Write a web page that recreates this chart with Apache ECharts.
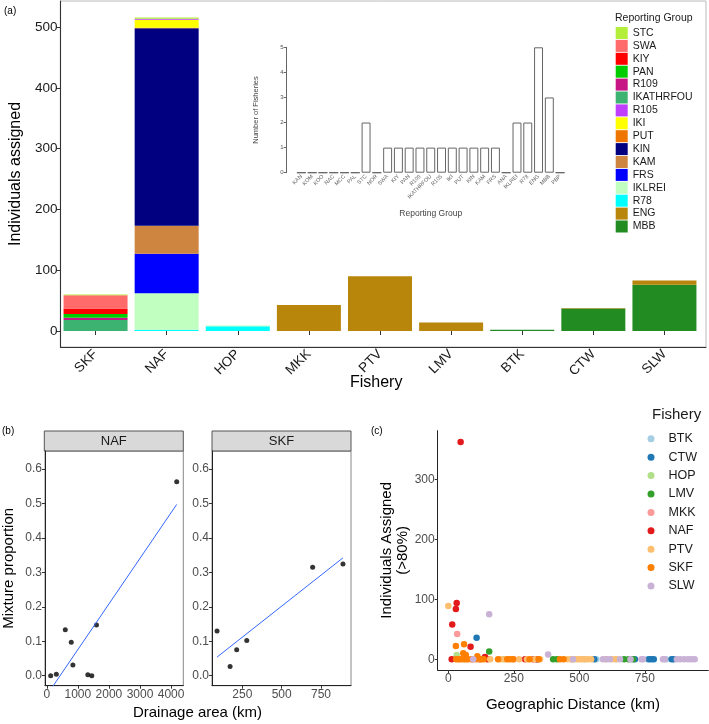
<!DOCTYPE html>
<html><head><meta charset="utf-8">
<script src="https://cdn.jsdelivr.net/npm/echarts@6/dist/echarts.min.js"></script>
<style>html,body{margin:0;padding:0;background:#fff}#c{width:709px;height:724px}</style>
</head><body><div id="c"></div>
<script>
// ---------- Panel (a): stacked bars ----------
const fisheries = ['SKF','NAF','HOP','MKK','PTV','LMV','BTK','CTW','SLW'];
const groups = ['STC','SWA','KIY','PAN','R109','IKATHRFOU','R105','IKI','PUT','KIN','KAM','FRS','IKLREI','R78','ENG','MBB'];
const STC       = [1, 2, 0, 0, 0, 0, 0, 0, 0];
const SWA       = [22, 0, 0, 0, 0, 0, 0, 0, 0];
const KIY       = [9, 0, 0, 0, 0, 0, 0, 0, 0];
const PAN       = [6, 0, 0, 0, 0, 0, 0, 0, 0];
const R109      = [4, 0, 0, 0, 0, 0, 0, 0, 0];
const IKATHRFOU = [18, 0, 0, 0, 0, 0, 0, 0, 0];
const R105      = [0, 2, 0, 0, 0, 0, 0, 0, 0];
const IKI       = [0, 13, 0, 0, 0, 0, 0, 0, 0];
const PUT       = [0, 1, 0, 0, 0, 0, 0, 0, 0];
const KIN       = [0, 325, 0, 0, 0, 0, 0, 0, 0];
const KAM       = [0, 46, 0, 0, 0, 0, 0, 0, 0];
const FRS       = [0, 65, 0, 0, 0, 0, 0, 0, 0];
const IKLREI    = [0, 60, 1, 0, 0, 0, 0, 0, 0];
const R78       = [0, 2, 8, 0, 0, 0, 0, 0, 0];
const ENG       = [0, 0, 0, 43, 90, 14, 0, 1, 7];
const MBB       = [0, 0, 0, 0, 0, 0, 2, 37, 76];
const aTicks = [0, 100, 200, 300, 400, 500];

// ---------- Inset ----------
const insetGroups = ['KAN','KOM','KOO','NAC','MCC','PAL','STC','NOR','SWA','KIY','PAN','R109','IKATHRFOU','R105','IKI','PUT','KIN','KAM','FRS','ANA','IKLREI','R78','ENG','MBB','PBP'];
const insetCounts = [0,0,0,0,0,0,2,0,1,1,1,1,1,1,1,1,1,1,1,0,2,2,5,3,0];
const insetTicks = [0,1,2,3,4,5];

// ---------- Panel (b) ----------
const nafArea = [125, 307, 595, 787, 840, 1320, 1448, 1598, 4181];
const nafProp = [0.000, 0.004, 0.133, 0.097, 0.031, 0.003, 0.000, 0.147, 0.563];
const skfArea = [89, 172, 214, 278, 697, 890];
const skfProp = [0.130, 0.027, 0.075, 0.102, 0.315, 0.324];
const nafFit = [[125, -0.040], [4181, 0.497]];
const skfFit = [[89, 0.054], [890, 0.342]];
const propTicks = [0, 0.1, 0.2, 0.3, 0.4, 0.5, 0.6];
const nafAreaTicks = [0, 1000, 2000, 3000, 4000];
const skfAreaTicks = [250, 500, 750];

// ---------- Panel (c) ----------
const fisheryNames = ['BTK','CTW','HOP','LMV','MKK','NAF','PTV','SKF','SLW'];
const cBTK = [[520,0],[565,0],[640,0],[700,0],[760,0],[830,0]];
const cCTW = [[108,36],[340,0],[557,0],[712,0],[766,0],[775,0],[784,0],[852,0],[860,0]];
const cHOP = [[32,7],[60,0],[210,0],[480,0]];
const cLMV = [[156,13],[400,0],[415,0],[671,0],[688,0],[705,0]];
const cMKK = [[34,42],[90,0],[250,0],[470,0]];
const cNAF = [[47,362],[32,94],[29,84],[15,58],[85,21],[140,4],[13,0],[120,0],[150,0],[293,0],[325,0],[337,0]];
const cPTV = [[0,89],[40,0],[70,0],[115,0],[160,0],[200,0],[215,0],[270,0],[300,0],[330,0],[350,0],[455,0],[470,0],[490,0],[500,0],[510,0],[520,0],[532,0],[545,0],[600,0],[625,0],[640,0]];
const cSKF = [[29,22],[60,25],[57,10],[67,7],[111,5],[30,0],[40,0],[50,0],[62,0],[75,0],[90,0],[105,0],[125,0],[135,0],[190,0],[225,0],[235,0],[247,0],[310,0],[345,0],[426,0],[440,0]];
const cSLW = [[156,75],[381,8],[95,0],[476,0],[590,0],[605,0],[617,0],[655,0],[695,0],[737,0],[743,0],[819,0],[826,0],[872,0],[885,0],[900,0],[915,0],[928,0],[940,0]];
const distTicks = [0, 250, 500, 750];
const indTicks = [0, 100, 200, 300];

// ---------- styles ----------
const groupColors = {STC:'#B3EE3A',SWA:'#FF6A6A',KIY:'#FF0000',PAN:'#00CD00',R109:'#C71585',IKATHRFOU:'#3CB371',R105:'#BF3EFF',IKI:'#FFFF00',PUT:'#EE7600',KIN:'#000080',KAM:'#CD853F',FRS:'#0000FF',IKLREI:'#C1FFC1',R78:'#00FFFF',ENG:'#B8860B',MBB:'#228B22'};
const fisheryColors = ['#A6CEE3','#1F78B4','#B2DF8A','#33A02C','#FB9A99','#E31A1C','#FDBF6F','#FF7F00','#CAB2D6'];
const FF = '"Liberation Sans", Arial, Helvetica, sans-serif';

const groupValues = {STC,SWA,KIY,PAN,R109,IKATHRFOU,R105,IKI,PUT,KIN,KAM,FRS,IKLREI,R78,ENG,MBB};
const scatterValues = [cBTK,cCTW,cHOP,cLMV,cMKK,cNAF,cPTV,cSKF,cSLW];

const series = [];
groups.slice().reverse().forEach(g => {
  series.push({name:g, type:'bar', stack:'a', xAxisIndex:1, yAxisIndex:1, barWidth:'90%',
    data: groupValues[g], itemStyle:{color:groupColors[g]}});
});
series.push({name:'inset', type:'bar', xAxisIndex:2, yAxisIndex:2, barCategoryGap:'17%',
  data: insetCounts, itemStyle:{color:'#fff', borderColor:'#666', borderWidth:1}});
series.push({name:'nafPts', type:'scatter', xAxisIndex:3, yAxisIndex:3, symbolSize:5,
  data: nafArea.map((a,i)=>[a,nafProp[i]]), itemStyle:{color:'#000'}});
series.push({name:'nafFit', type:'line', xAxisIndex:3, yAxisIndex:3, showSymbol:false, symbol:'none', clip:true,
  data: nafFit, lineStyle:{color:'#3366FF', width:1}});
series.push({name:'skfPts', type:'scatter', xAxisIndex:4, yAxisIndex:4, symbolSize:5,
  data: skfArea.map((a,i)=>[a,skfProp[i]]), itemStyle:{color:'#000'}});
series.push({name:'skfFit', type:'line', xAxisIndex:4, yAxisIndex:4, showSymbol:false, symbol:'none', clip:true,
  data: skfFit, lineStyle:{color:'#3366FF', width:1}});
fisheryNames.forEach((f,i) => {
  series.push({name:f, type:'scatter', xAxisIndex:5, yAxisIndex:5, symbolSize:6.5,
    data: scatterValues[i], itemStyle:{color:fisheryColors[i], opacity:1}});
});

const plain = v => String(v);
const noSplit = {show:false};
const option = {
  animation:false,
  textStyle:{fontFamily:FF},
  grid:[
    {left:52, top:1, width:654, height:346, show:true, borderColor:'#bbb', borderWidth:1},
    {left:60, top:1, width:640, height:346},
    {left:296, top:47.3, width:269.5, height:125.4},
    {left:44.3, top:451, width:139, height:234.7, show:true, borderColor:'#888', borderWidth:1},
    {left:212, top:451, width:139, height:234.7, show:true, borderColor:'#888', borderWidth:1},
    {left:437.7, top:430.7, width:270.6, height:239.3}
  ],
  xAxis:[
    {gridIndex:0, type:'value', min:0, max:1, axisLine:{show:true, onZero:false, lineStyle:{color:'#333', width:1.1}},
      axisTick:{show:false}, axisLabel:{show:false}, splitLine:noSplit,
      name:'Fishery', nameLocation:'middle', nameGap:28, nameTextStyle:{fontSize:16, color:'#000', fontFamily:FF, padding:[0,14,0,0]}},
    {gridIndex:1, type:'category', data:fisheries, axisLine:{show:false},
      axisTick:{show:true, alignWithLabel:true, length:4, lineStyle:{color:'#333'}},
      axisLabel:{rotate:45, fontSize:13.5, color:'#1a1a1a', margin:5, interval:0, fontFamily:FF}},
    {gridIndex:2, type:'category', data:insetGroups, axisLine:{show:false}, axisTick:{show:false},
      axisLabel:{rotate:45, fontSize:5.5, color:'#666', margin:3, interval:0, fontFamily:FF},
      name:'Reporting Group', nameLocation:'middle', nameGap:36, nameTextStyle:{fontSize:8.5, color:'#444', fontFamily:FF}},
    {gridIndex:3, type:'value', min:-58, max:4393, axisLine:{show:true, onZero:false, lineStyle:{color:'#222'}},
      axisTick:{show:true, length:3, customValues:nafAreaTicks, lineStyle:{color:'#333'}},
      axisLabel:{customValues:nafAreaTicks, formatter:plain, fontSize:12, color:'#4d4d4d', margin:3, fontFamily:FF}, splitLine:noSplit},
    {gridIndex:4, type:'value', min:57, max:941, axisLine:{show:true, onZero:false, lineStyle:{color:'#222'}},
      axisTick:{show:true, length:3, customValues:skfAreaTicks, lineStyle:{color:'#333'}},
      axisLabel:{customValues:skfAreaTicks, formatter:plain, fontSize:12, color:'#4d4d4d', margin:3, fontFamily:FF}, splitLine:noSplit},
    {gridIndex:5, type:'value', min:-40.4, max:992, axisLine:{show:true, onZero:false, lineStyle:{color:'#222'}},
      axisTick:{show:true, length:3, customValues:distTicks, lineStyle:{color:'#333'}},
      axisLabel:{customValues:distTicks, formatter:plain, fontSize:12, color:'#4d4d4d', margin:3, fontFamily:FF}, splitLine:noSplit,
      name:'Geographic Distance (km)', nameLocation:'middle', nameGap:27, nameTextStyle:{fontSize:15, color:'#000', fontFamily:FF}}
  ],
  yAxis:[
    {gridIndex:0, type:'value', min:-26.3, max:543, axisLine:{show:true, onZero:false, lineStyle:{color:'#333', width:1.1}},
      axisTick:{show:true, length:4, customValues:aTicks, lineStyle:{color:'#333'}},
      axisLabel:{customValues:aTicks, fontSize:13.5, color:'#1a1a1a', margin:3, fontFamily:FF}, splitLine:noSplit,
      name:'Individuals assigned', nameLocation:'middle', nameGap:23, nameTextStyle:{fontSize:16, color:'#000', fontFamily:FF}},
    {gridIndex:1, type:'value', min:-26.3, max:543, show:false, splitLine:noSplit},
    {gridIndex:2, type:'value', min:0, max:5, interval:1, offset:9.3,
      axisLine:{show:true, onZero:false, lineStyle:{color:'#666'}},
      axisTick:{show:true, length:3, lineStyle:{color:'#666'}},
      axisLabel:{fontSize:6, color:'#555', margin:3, fontFamily:FF}, splitLine:noSplit,
      name:'Number of Fisheries', nameLocation:'middle', nameGap:27, nameTextStyle:{fontSize:7.5, color:'#444', fontFamily:FF}},
    {gridIndex:3, type:'value', min:-0.029, max:0.652, axisLine:{show:true, onZero:false, lineStyle:{color:'#222'}},
      axisTick:{show:true, length:3, customValues:propTicks, lineStyle:{color:'#333'}},
      axisLabel:{customValues:propTicks, formatter:v=>v.toFixed(1), fontSize:12, color:'#4d4d4d', margin:3, fontFamily:FF}, splitLine:noSplit,
      name:'Mixture proportion', nameLocation:'middle', nameGap:29, nameTextStyle:{fontSize:15, color:'#000', fontFamily:FF}},
    {gridIndex:4, type:'value', min:-0.029, max:0.652, axisLine:{show:true, onZero:false, lineStyle:{color:'#222'}},
      axisTick:{show:true, length:3, customValues:propTicks, lineStyle:{color:'#333'}},
      axisLabel:{customValues:propTicks, formatter:v=>v.toFixed(1), fontSize:12, color:'#4d4d4d', margin:3, fontFamily:FF}, splitLine:noSplit},
    {gridIndex:5, type:'value', min:-17.8, max:381, axisLine:{show:true, onZero:false, lineStyle:{color:'#222'}},
      axisTick:{show:true, length:3, customValues:indTicks, lineStyle:{color:'#333'}},
      axisLabel:{customValues:indTicks, fontSize:12, color:'#4d4d4d', margin:3, fontFamily:FF}, splitLine:noSplit,
      name:'Individuals Assigned\n(>80%)', nameLocation:'middle', nameGap:23, nameTextStyle:{fontSize:15, lineHeight:16, color:'#000', fontFamily:FF}}
  ],
  legend:[
    {data:groups, orient:'vertical', left:615.7, top:27, padding:0, itemWidth:12, itemHeight:12, itemGap:0.9, icon:'rect',
      textStyle:{fontSize:10.5, color:'#1a1a1a', fontFamily:FF}, selectedMode:false},
    {data:fisheryNames, orient:'vertical', left:647.5, top:432.3, padding:0, itemWidth:25, itemHeight:7, itemGap:5.4, icon:'circle',
      textStyle:{fontSize:12.5, color:'#1a1a1a', fontFamily:FF}, selectedMode:false}
  ],
  graphic:{elements:[
    {type:'text', x:4, y:6, style:{text:'(a)', fontSize:10, fill:'#000', fontFamily:FF}},
    {type:'text', x:615, y:13, style:{text:'Reporting Group', fontSize:10.5, fill:'#1a1a1a', fontFamily:FF}},
    {type:'text', x:2, y:426, style:{text:'(b)', fontSize:10, fill:'#000', fontFamily:FF}},
    {type:'text', x:371, y:426, style:{text:'(c)', fontSize:10, fill:'#000', fontFamily:FF}},
    {type:'rect', shape:{x:44.3, y:431, width:139, height:20}, style:{fill:'#d9d9d9', stroke:'#555', lineWidth:1}},
    {type:'text', x:113.8, y:441, style:{text:'NAF', fontSize:13, fill:'#1a1a1a', align:'center', verticalAlign:'middle', fontFamily:FF}},
    {type:'rect', shape:{x:212, y:431, width:139, height:20}, style:{fill:'#d9d9d9', stroke:'#555', lineWidth:1}},
    {type:'text', x:281.5, y:441, style:{text:'SKF', fontSize:13, fill:'#1a1a1a', align:'center', verticalAlign:'middle', fontFamily:FF}},
    {type:'text', x:197.5, y:713, style:{text:'Drainage area (km)', fontSize:15, fill:'#000', align:'center', verticalAlign:'middle', fontFamily:FF}},
    {type:'text', x:652, y:407, style:{text:'Fishery', fontSize:15, fill:'#1a1a1a', fontFamily:FF}}
  ]},
  series: series
};
const chart = echarts.init(document.getElementById('c'), null, {renderer:'canvas'});
chart.setOption(option);
</script>
</body></html>
